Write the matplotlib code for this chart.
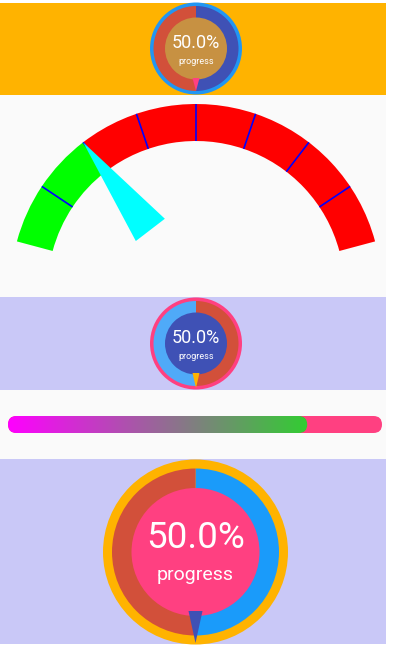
import matplotlib
matplotlib.use("Agg")
import matplotlib.pyplot as plt
import numpy as np
from matplotlib.patches import Rectangle, Wedge, Circle, Polygon, FancyBboxPatch

plt.rcParams['font.family'] = ['Roboto', 'DejaVu Sans']

# values shown by the widgets
ring_progress = [50.0, 50.0, 50.0]      # three round progress gauges (%)
ring_label = "progress"
gauge_value = 25.0                       # arc gauge needle
gauge_min, gauge_max = 0.0, 100.0
gauge_bands = [(0.0, 25.0, "#00FF00"), (25.0, 100.0, "#FF0000")]
gauge_ticks = [12.5, 25.0, 37.5, 50.0, 62.5, 75.0, 87.5]
bar_progress = 80.0                      # linear bar (%)

W, H = 400, 664
fig = plt.figure(figsize=(W / 100, H / 100), dpi=100)
ax = fig.add_axes([0, 0, 1, 1])
ax.set_xlim(0, W)
ax.set_ylim(0, H)
ax.axis("off")


def Y(y):
    # pixel row from top -> data y
    return H - y


# panel backgrounds
panels = [(3, 95, "#FFB300"), (95, 297, "#FAFAFA"), (297, 390, "#C9C8F7"),
          (390, 459, "#FAFAFA"), (459, 644, "#C9C8F7")]
for top, bot, col in panels:
    ax.add_patch(Rectangle((0, Y(bot)), 386, bot - top, color=col, lw=0, zorder=0))


def ring_gauge(cx, cy, r_out, edge_w, r_in, value, edge_col, prog_col, rest_col,
               inner_col, ptr_col, ptr_base_y, ptr_half, ptr_tip_y, fs_big, fs_small,
               dy_big, dy_small):
    cy = Y(cy)
    ax.add_patch(Circle((cx, cy), r_out, color=edge_col, lw=0, zorder=2))
    r_mid = r_out - edge_w
    a = 360 * value / 100
    ax.add_patch(Wedge((cx, cy), r_mid, 90 - a, 90, color=prog_col, lw=0, zorder=3))
    ax.add_patch(Wedge((cx, cy), r_mid, 90, 450 - a, color=rest_col, lw=0, zorder=3))
    ax.add_patch(Circle((cx, cy), r_in, color=inner_col, lw=0, zorder=4))
    ax.add_patch(Polygon([(cx - ptr_half, Y(ptr_base_y)), (cx + ptr_half, Y(ptr_base_y)),
                          (cx, Y(ptr_tip_y))], closed=True, color=ptr_col, lw=0, zorder=5))
    ax.text(cx, cy - dy_big, f"{value:.1f}%", color="white", fontsize=fs_big,
            ha="center", va="center", zorder=6)
    ax.text(cx, cy - dy_small, ring_label, color="white", fontsize=fs_small,
            ha="center", va="center", zorder=6)


ring_gauge(196, 48.5, 46, 3.5, 31, ring_progress[0], "#2196F3", "#3F51B5", "#D2503A",
           "#C79142", "#FF4081", 78, 3.5, 91, 13, 6.5, -5.5, 12.5)
ring_gauge(196, 343.5, 46, 3.5, 31, ring_progress[1], "#FF4081", "#D2503A", "#4FAAF8",
           "#3F51B5", "#FFB300", 373, 3.5, 388, 13, 6.5, -5.5, 13)
ring_gauge(195.5, 552, 92.5, 9, 64, ring_progress[2], "#FFB300", "#1A9BFA", "#D2503A",
           "#FF4081", "#3F51B5", 611, 7, 643, 26.5, 14, -14, 23)

# arc gauge
gcx, gcy = 196, Y(289.4)
r_o, r_i = 185.4, 148.4
a0, span = 165.0, 150.0


def ang(v):
    return a0 - span * (v - gauge_min) / (gauge_max - gauge_min)


for lo, hi, col in gauge_bands:
    ax.add_patch(Wedge((gcx, gcy), r_o, ang(hi), ang(lo), width=r_o - r_i,
                       color=col, lw=0, zorder=2))
for t in gauge_ticks:
    th = np.radians(ang(t))
    ax.plot([gcx + r_i * np.cos(th), gcx + r_o * np.cos(th)],
            [gcy + r_i * np.sin(th), gcy + r_o * np.sin(th)],
            color="#0000FF", lw=1.2, zorder=3, solid_capstyle="butt")
th = np.radians(ang(gauge_value))
u = np.array([np.cos(th), np.sin(th)])
n = np.array([-np.sin(th), np.cos(th)])
base = np.array([gcx, gcy]) + 75 * u
tip = np.array([gcx, gcy]) + r_o * u
ax.add_patch(Polygon([base + 18.3 * n, base - 18.3 * n, tip], closed=True,
                     color="#00FFFF", lw=0, zorder=4))

# linear progress bar
bx0, bx1, byc, bh = 8, 382, Y(424.5), 17
ax.add_patch(FancyBboxPatch((bx0, byc - bh / 2), bx1 - bx0, bh,
                            boxstyle=f"round,pad=0,rounding_size={bh / 2}",
                            color="#FF4081", lw=0, zorder=2))
bx_end = bx0 + (bx1 - bx0) * bar_progress / 100
clip = FancyBboxPatch((bx0, byc - bh / 2), bx_end - bx0, bh,
                      boxstyle=f"round,pad=0,rounding_size={bh / 2}",
                      facecolor="none", lw=0, transform=ax.transData)
ax.add_patch(clip)
c0 = np.array([255, 0, 255]) / 255
c1 = np.array([50, 205, 50]) / 255
t = np.linspace(0, 1, 256)
grad = (c0[None, :] * (1 - t[:, None]) + c1[None, :] * t[:, None])[None, :, :]
im = ax.imshow(grad, extent=[bx0, bx_end, byc - bh / 2, byc + bh / 2],
               aspect="auto", zorder=3, interpolation="bilinear")
im.set_clip_path(clip)
ax.set_xlim(0, W)
ax.set_ylim(0, H)

fig.savefig("out.png", dpi=100, facecolor="white")
